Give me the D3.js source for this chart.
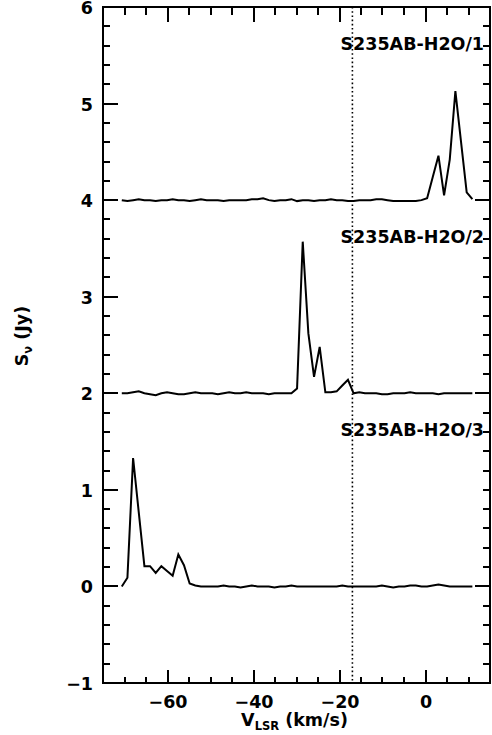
<!DOCTYPE html>
<html><head><meta charset="utf-8">
<script src="https://cdn.jsdelivr.net/npm/d3@7"></script>
<style>body{margin:0;background:#fff}svg{display:block}</style>
</head><body><svg id="c" width="492" height="735"></svg>
<script>
// Channel velocities (km/s)
const velocity = [-70.63,-69.32,-68.00,-66.69,-65.37,-64.06,-62.74,-61.43,-60.11,-58.80,
  -57.48,-56.17,-54.85,-53.54,-52.22,-50.91,-49.59,-48.28,-46.96,-45.65,
  -44.33,-43.02,-41.70,-40.39,-39.07,-37.76,-36.44,-35.13,-33.81,-32.50,
  -31.18,-29.87,-28.55,-27.24,-25.92,-24.61,-23.29,-21.98,-20.66,-19.35,
  -18.03,-16.72,-15.40,-14.09,-12.77,-11.46,-10.14,-8.83,-7.51,-6.20,
  -4.88,-3.57,-2.25,-0.94,0.38,1.69,3.01,4.32,5.64,6.95,8.27,9.58,10.90];
// Flux densities (Jy) for each spectrum
const flux1 = [0.00,-0.01,0.00,0.01,0.00,0.00,-0.01,0.00,0.00,0.01,
  0.00,0.00,-0.01,0.00,0.01,0.00,0.00,0.00,-0.01,0.00,
  0.00,0.00,0.00,0.01,0.01,0.02,0.00,-0.01,0.00,0.00,
  0.01,-0.01,0.00,0.00,-0.01,0.00,0.00,0.01,0.00,0.00,
  -0.01,-0.01,0.00,0.00,0.00,0.01,0.01,0.00,-0.01,-0.01,
  -0.01,-0.01,-0.01,0.00,0.02,0.24,0.46,0.05,0.42,1.13,0.60,0.08,0.01];
const flux2 = [0.00,0.00,0.01,0.02,0.00,-0.01,-0.02,0.00,0.01,0.00,
  -0.01,-0.01,0.00,0.01,0.00,0.00,0.00,-0.01,0.00,0.01,
  0.00,0.00,0.01,0.00,0.00,0.00,-0.01,0.00,0.00,0.00,
  0.00,0.05,1.57,0.62,0.17,0.48,0.01,0.01,0.02,0.08,
  0.14,0.00,0.01,0.00,0.00,0.00,-0.01,-0.01,0.00,0.00,
  0.00,0.01,0.00,0.00,0.00,0.00,-0.01,0.00,0.00,0.00,0.00,0.00,0.00];
const flux3 = [0.00,0.09,1.33,0.77,0.21,0.21,0.14,0.21,0.16,0.11,
  0.33,0.22,0.03,0.01,0.00,0.00,0.00,0.00,0.01,0.00,
  0.00,-0.01,0.00,0.01,0.00,0.00,0.00,-0.01,0.00,0.00,
  0.01,0.00,0.00,0.00,0.00,0.00,0.00,0.00,0.00,0.01,
  0.00,0.00,0.00,0.00,0.00,0.00,0.01,0.00,-0.01,0.00,
  0.00,0.01,0.01,0.00,0.00,0.01,0.02,0.01,0.00,0.00,0.00,0.00,0.00];
const offsets = [4, 2, 0];
const labels = ["S235AB-H2O/1", "S235AB-H2O/2", "S235AB-H2O/3"];
const xMajor = [-60, -40, -20, 0];
const xMinor = [-75,-70,-65,-55,-50,-45,-35,-30,-25,-15,-10,-5,5,10,15];
const yMajor = [-1, 0, 1, 2, 3, 4, 5, 6];
const vSys = -17;

const svg = d3.select("#c");
const L = 103, R = 490, T = 7, B = 683;
const x = d3.scaleLinear().domain([-75, 15]).range([L, R]);
const y = d3.scaleLinear().domain([-1, 6]).range([B, T]);
const yMinor = d3.range(-1, 6.001, 0.2).map(v => +v.toFixed(1)).filter(v => Math.abs(v - Math.round(v)) > 1e-6);
const FONT = "'DejaVu Sans', sans-serif";
const fmt = d3.format("d");

function labelStyle(g) {
  g.select(".domain").remove();
  g.selectAll("line").remove();
  g.selectAll("text").attr("font-family", FONT).attr("font-weight", "bold")
    .attr("font-size", 17.5).attr("fill", "#000");
}

// tick labels through d3 axes
svg.append("g").attr("transform", `translate(0,${B})`)
  .call(d3.axisBottom(x).tickValues(xMajor).tickSize(0).tickFormat(fmt))
  .call(labelStyle).call(g => g.selectAll("text").attr("y", 25).attr("dy", 0));
svg.append("g").attr("transform", `translate(${L},0)`)
  .call(d3.axisLeft(y).tickValues(yMajor).tickSize(0).tickFormat(fmt))
  .call(labelStyle).call(g => g.selectAll("text").attr("x", -10).attr("dy", 6.5));

// tick marks (inward), each set drawn as one path
const tickSets = [
  {vals: xMajor, dir: "x", at: B, len: -13},
  {vals: xMinor, dir: "x", at: B, len: -6},
  {vals: xMajor, dir: "x", at: T, len: 15},
  {vals: xMinor, dir: "x", at: T, len: 8},
  {vals: yMajor, dir: "y", at: L, len: 15},
  {vals: yMinor, dir: "y", at: L, len: 7},
  {vals: yMajor.concat(yMinor), dir: "y", at: R, len: -7},
  {vals: offsets, dir: "y", at: R, len: -15}
];
tickSets.forEach(s => {
  const p = d3.path();
  s.vals.forEach(v => {
    if (s.dir === "x") { const px = Math.round(x(v)); p.moveTo(px, s.at); p.lineTo(px, s.at + s.len); }
    else { const py = Math.round(y(v)); p.moveTo(s.at, py); p.lineTo(s.at + s.len, py); }
  });
  svg.append("path").attr("d", p.toString()).attr("fill", "none")
    .attr("stroke", "#000").attr("stroke-width", 2);
});

// frame
svg.append("rect").attr("x", L).attr("y", T).attr("width", R - L).attr("height", B - T)
  .attr("fill", "none").attr("stroke", "#000").attr("stroke-width", 2);

// systemic velocity
svg.append("line").attr("x1", x(vSys)).attr("x2", x(vSys)).attr("y1", y(6)).attr("y2", y(-1))
  .attr("stroke", "#000").attr("stroke-width", 1.6).attr("stroke-dasharray", "1.6,2.6");

// spectra
const line = d3.line().x(d => x(d[0])).y(d => y(d[1]));
[flux1, flux2, flux3].forEach((f, k) => {
  const pts = velocity.map((v, i) => [v, f[i] + offsets[k]]);
  svg.append("path").attr("d", line(pts)).attr("fill", "none")
    .attr("stroke", "#000").attr("stroke-width", 2).attr("stroke-linejoin", "miter");
  svg.append("text").attr("x", 484).attr("y", y(offsets[k] + 1.555))
    .attr("text-anchor", "end").attr("font-family", FONT).attr("font-weight", "bold")
    .attr("font-size", 17.5).text(labels[k]);
});

// axis titles
const xt = svg.append("text").attr("x", (L + R) / 2 - 2).attr("y", 726).attr("text-anchor", "middle")
  .attr("font-family", FONT).attr("font-weight", "bold").attr("font-size", 17.5);
xt.append("tspan").text("V");
xt.append("tspan").attr("font-size", 11.5).attr("dy", 4).text("LSR");
xt.append("tspan").attr("dy", -4).text(" (km/s)");

const yt = svg.append("text").attr("transform", "translate(28,336) rotate(-90)").attr("text-anchor", "middle")
  .attr("font-family", FONT).attr("font-weight", "bold").attr("font-size", 17.5);
yt.append("tspan").text("S");
yt.append("tspan").attr("font-size", 11.5).attr("dy", 4).text("ν");
yt.append("tspan").attr("dy", -4).text(" (Jy)");
</script></body></html>
